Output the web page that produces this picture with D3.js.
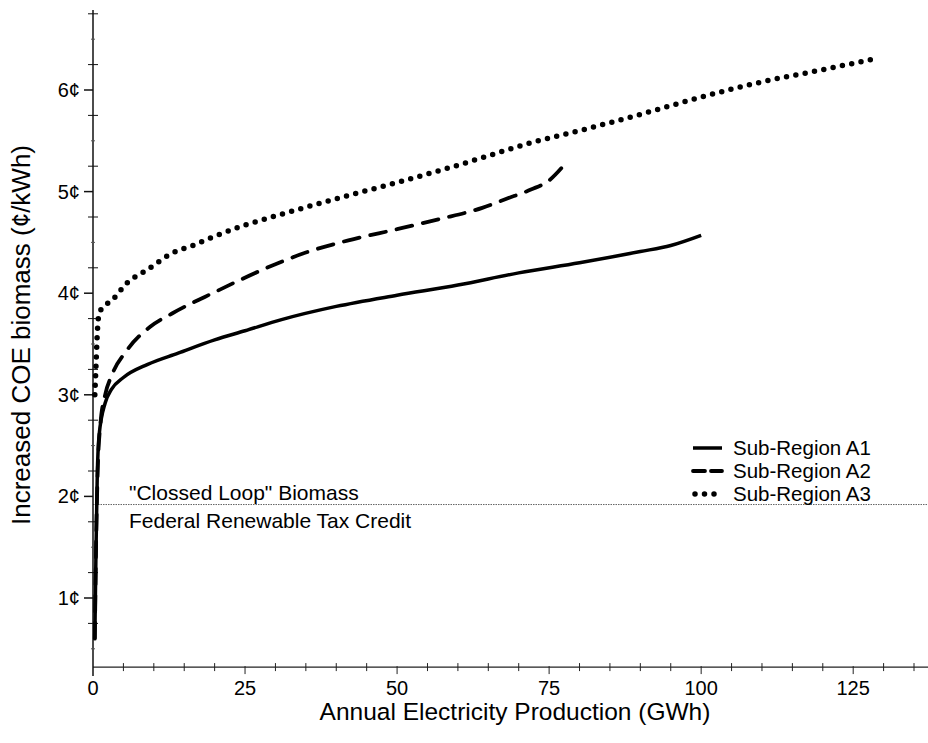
<!DOCTYPE html>
<html><head><meta charset="utf-8">
<script src="https://cdn.jsdelivr.net/npm/d3@7/dist/d3.min.js"></script>
<style>
body{margin:0;background:#fff;}
text{font-family:"Liberation Sans",Arial,sans-serif;fill:#000;}
</style></head>
<body><svg id="c" width="928" height="743"></svg>
<script>
// Data (GWh, ¢/kWh)
const regionA1 = [[0.3,0.6],[0.5,1.5],[0.7,2.2],[1,2.6],[2,2.92],[3,3.05],[5,3.17],[9,3.3],[14,3.41],[20,3.54],[25,3.63],[31,3.74],[40,3.87],[50,3.98],[60,4.08],[70,4.2],[80,4.3],[90,4.41],[95,4.47],[100,4.57]];
const regionA2 = [[0.3,0.6],[0.5,1.5],[0.8,2.3],[1.2,2.7],[2,3.0],[3,3.18],[5.6,3.44],[9.4,3.67],[13,3.8],[20,4.01],[28.6,4.25],[35,4.4],[42,4.52],[50,4.63],[57,4.73],[64,4.84],[68,4.93],[72,5.02],[75,5.11],[77.3,5.25]];
const regionA3 = [[0.3,3.0],[0.5,3.3],[0.7,3.6],[1,3.8],[2,3.88],[3.1,3.93],[5.6,4.1],[8.9,4.23],[13.2,4.4],[16.4,4.47],[20,4.56],[25,4.67],[30,4.76],[40,4.93],[50,5.09],[60,5.26],[67,5.39],[72,5.48],[80,5.6],[90,5.76],[100,5.93],[110,6.08],[120,6.2],[128,6.3]];
const seriesNames = ["Sub-Region A1","Sub-Region A2","Sub-Region A3"];
const xTickValues = [0,25,50,75,100,125];
const yTickValues = [1,2,3,4,5,6];
const taxCredit = 1.92;
const taxCreditLabels = ['"Clossed Loop" Biomass','Federal Renewable Tax Credit'];

const svg = d3.select("#c");
const x = d3.scaleLinear().domain([0,137.3]).range([93,928]);
const y = d3.scaleLinear().domain([1,6]).range([598,90]);
const yBottom = 0.32;

// tax credit line
svg.append("line").attr("x1",x(0)).attr("x2",928).attr("y1",y(taxCredit)).attr("y2",y(taxCredit))
  .attr("stroke","#666").attr("stroke-width",1).attr("stroke-dasharray","1.5 1");
svg.append("text").attr("x",129).attr("y",y(taxCredit)-5).attr("font-size",21).text(taxCreditLabels[0]);
svg.append("text").attr("x",129).attr("y",y(taxCredit)+23).attr("font-size",21).text(taxCreditLabels[1]);

// x axis
const gx = svg.append("g");
gx.append("line").attr("x1",x(0)).attr("x2",928).attr("y1",y(yBottom)).attr("y2",y(yBottom)).attr("stroke","#222").attr("stroke-width",1.2);
d3.range(5,137,5).forEach(v=>{
  const major = v%25===0;
  gx.append("line").attr("x1",x(v)).attr("x2",x(v)).attr("y1",y(yBottom)-(major?1:4)).attr("y2",y(yBottom)+(major?7:4)).attr("stroke","#222").attr("stroke-width",1);
});
gx.selectAll("text.xt").data(xTickValues).join("text").attr("class","xt")
  .attr("x",d=>x(d)).attr("y",695).attr("text-anchor","middle").attr("font-size",20).text(d=>d);
svg.append("text").attr("x",515).attr("y",720).attr("text-anchor","middle").attr("font-size",24.5).text("Annual Electricity Production (GWh)");

// y axis
const gy = svg.append("g");
gy.append("line").attr("x1",x(0)).attr("x2",x(0)).attr("y1",10).attr("y2",y(yBottom)+9).attr("stroke","#111").attr("stroke-width",1.5);
d3.range(0.5,6.8,0.25).forEach(v=>{
  const isMajor = Math.abs(v-Math.round(v))<1e-6;
  const isHalf = Math.abs(v*2-Math.round(v*2))<1e-6 && !isMajor;
  if(isMajor) gy.append("line").attr("x1",x(0)-9).attr("x2",x(0)).attr("y1",y(v)).attr("y2",y(v)).attr("stroke","#111").attr("stroke-width",1.5);
  else if(isHalf) gy.append("line").attr("x1",x(0)-2).attr("x2",x(0)+2).attr("y1",y(v)).attr("y2",y(v)).attr("stroke","#555").attr("stroke-width",1);
  else gy.append("line").attr("x1",x(0)-5).attr("x2",x(0)+5).attr("y1",y(v)).attr("y2",y(v)).attr("stroke","#111").attr("stroke-width",1);
});
gy.selectAll("text.yt").data(yTickValues).join("text").attr("class","yt")
  .attr("x",80).attr("y",d=>y(d)+7).attr("text-anchor","end").attr("font-size",20).text(d=>d+"¢");
svg.append("text").attr("transform","translate(30,335) rotate(-90)").attr("text-anchor","middle").attr("font-size",26).text("Increased COE biomass (¢/kWh)");

// curves
const line = d3.line().x(d=>x(d[0])).y(d=>y(d[1])).curve(d3.curveMonotoneX);
const styles = [
  {dash:null, w:3.5, cap:"butt"},
  {dash:"16 11", w:3.8, cap:"round"},
  {dash:"0 9.5", w:5.5, cap:"round"}
];
[regionA1,regionA2,regionA3].forEach((s,i)=>{
  svg.append("path").attr("d",line(s)).attr("fill","none").attr("stroke","#000")
    .attr("stroke-width",styles[i].w).attr("stroke-linecap",styles[i].cap)
    .attr("stroke-dasharray",styles[i].dash);
});

// legend
const lg = svg.append("g");
seriesNames.forEach((n,i)=>{
  const ly = 448 + i*23;
  lg.append("line").attr("x1",i===2?695:693).attr("x2",722).attr("y1",ly).attr("y2",ly).attr("stroke","#000")
    .attr("stroke-width",styles[i].w).attr("stroke-linecap",styles[i].cap).attr("stroke-dasharray",i===1?"12 6":styles[i].dash);
  lg.append("text").attr("x",733).attr("y",ly+7).attr("font-size",20.5).text(n);
});
</script></body></html>
